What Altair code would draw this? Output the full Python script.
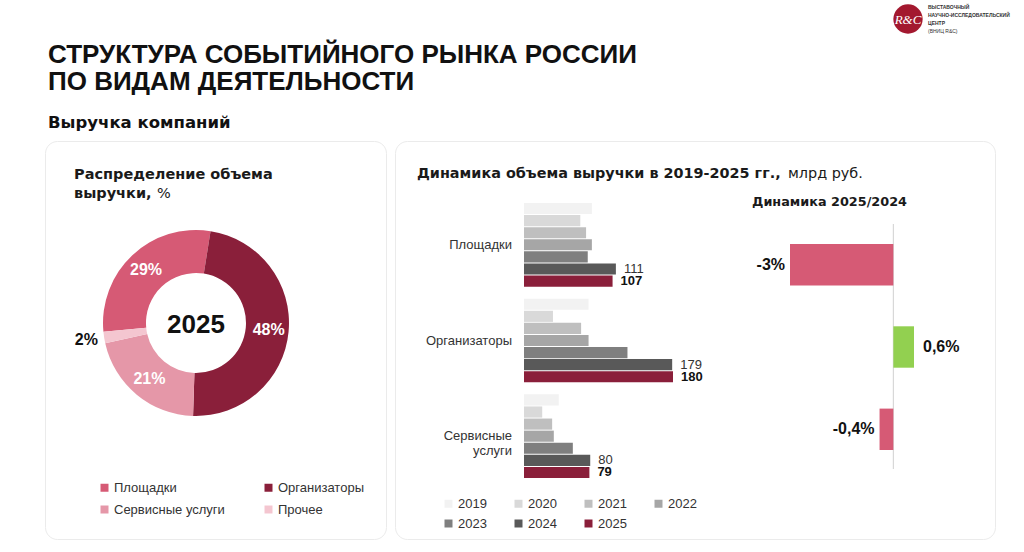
import math
import altair as alt
import pandas as pd

FONT = "Liberation Sans"
WIDE = "DejaVu Sans"
DARK = "#1a1a1a"
GREY_TXT = "#333333"

# ---------------- texts ----------------
title_line1 = "СТРУКТУРА СОБЫТИЙНОГО РЫНКА РОССИИ"
title_line2 = "ПО ВИДАМ ДЕЯТЕЛЬНОСТИ"
subtitle = "Выручка компаний"
donut_title1 = "Распределение объема"
donut_title2_bold = "выручки,"
donut_title2_reg = "%"
donut_center = "2025"
bars_title_bold = "Динамика объема выручки в 2019-2025 гг.,"
bars_title_reg = "млрд руб."
dyn_title = "Динамика 2025/2024"
logo_mark = "R&C"
logo_lines = ["ВЫСТАВОЧНЫЙ", "НАУЧНО-ИССЛЕДОВАТЕЛЬСКИЙ", "ЦЕНТР", "(ВНИЦ R&C)"]

# ---------------- donut data ----------------
donut_cats = ["Площадки", "Организаторы", "Сервисные услуги", "Прочее"]
donut_shares = [29, 48, 21, 2]
donut_labels = ["29%", "48%", "21%", "2%"]
donut_order = [4, 1, 2, 3]
donut_colors = ["#D65A75", "#8A1F3A", "#E597A8", "#F4C6D0"]

# ---------------- bar data ----------------
bar_cats = ["Площадки", "Организаторы", "Сервисные услуги"]
bar_cat_text = ["Площадки", "Организаторы", "Сервисные\nуслуги"]
years = ["2019", "2020", "2021", "2022", "2023", "2024", "2025"]
vals_venues = [82, 68, 75, 82, 77, 111, 107]
vals_organizers = [78, 35, 69, 78, 125, 179, 180]
vals_services = [42, 22, 34, 36, 59, 80, 79]
year_colors = ["#F2F2F2", "#D9D9D9", "#BFBFBF", "#A6A6A6", "#7F7F7F", "#595959", "#8A1F3A"]

# ---------------- dynamics data ----------------
dyn_vals = [-3, 0.6, -0.4]
dyn_labels = ["-3%", "0,6%", "-0,4%"]
NEG = "#D65A75"
POS = "#92D050"


def txt(text, x, y, size, weight="normal", color=DARK, align="left", font=FONT, style="normal"):
    return alt.Chart(pd.DataFrame({"t": [text]})).mark_text(
        font=font, fontSize=size, fontWeight=weight, color=color, align=align,
        baseline="alphabetic", fontStyle=style
    ).encode(text="t:N", x=alt.value(x), y=alt.value(y))


# ---------------- header ----------------
logo_df = pd.DataFrame({"a": [0]})
logo_circle = alt.Chart(logo_df).mark_circle(size=860, color="#A3182F", opacity=1).encode(
    x=alt.value(863), y=alt.value(19))
header_layers = [
    txt(title_line1, 3, 63, 26, "bold", "#111111"),
    txt(title_line2, 3, 90, 26, "bold", "#111111"),
    txt(subtitle, 3, 128, 16.5, "bold", "#111111", font=WIDE),
    logo_circle,
    txt(logo_mark, 863, 24, 13, "normal", "white", "center", "Liberation Serif", "italic"),
]
for i, line in enumerate(logo_lines):
    header_layers.append(txt(line, 883, 9 + 8 * i, 5, "bold" if i < 3 else "normal", GREY_TXT))
header = alt.layer(*header_layers).properties(
    width=970, height=140, view=alt.ViewBackground(strokeWidth=0, stroke="transparent"))

# ---------------- panel A: donut ----------------
donut_df = pd.DataFrame({"cat": donut_cats, "share": donut_shares,
                         "label": donut_labels, "ord": donut_order})
CX, CY = 151, 182
start = 9 * math.pi / 180
theta = alt.Theta("share:Q", stack=True, scale=alt.Scale(range=[start, start + 2 * math.pi]))
order = alt.Order("ord:Q")

arc = alt.Chart(donut_df).mark_arc(innerRadius=50, outerRadius=93).encode(
    theta=theta, order=order,
    color=alt.Color("cat:N", scale=alt.Scale(domain=donut_cats, range=donut_colors),
                    legend=alt.Legend(orient="none", legendX=53, legendY=340, columns=2,
                                      direction="horizontal",
                                      title=None, symbolType="square", symbolSize=64,
                                      symbolStrokeWidth=0, labelFont=FONT, labelFontSize=13,
                                      labelColor=GREY_TXT, columnPadding=37, rowPadding=8,
                                      labelOffset=3, labelLimit=300)),
    x=alt.value(CX), y=alt.value(CY))

lbl_in = alt.Chart(donut_df).mark_text(radius=73, font=FONT, fontSize=16, fontWeight="bold",
                                       color="white").encode(
    theta=theta, order=order,
    text=alt.condition("datum.cat != 'Прочее'", alt.Text("label:N"), alt.value("")),
    x=alt.value(CX), y=alt.value(CY))
lbl_out = alt.Chart(donut_df).mark_text(radius=111, font=FONT, fontSize=16, fontWeight="bold",
                                        color="#111111").encode(
    theta=theta, order=order,
    text=alt.condition("datum.cat == 'Прочее'", alt.Text("label:N"), alt.value("")),
    x=alt.value(CX), y=alt.value(CY))

panelA = alt.layer(
    arc, lbl_in, lbl_out,
    txt(donut_center, CX, 192, 26, "bold", "#111111", "center"),
    txt(donut_title1, 29, 38, 14.5, "bold", font=WIDE),
    txt(donut_title2_bold, 29, 57, 14.5, "bold", font=WIDE),
    txt(donut_title2_reg, 112, 57, 14.5, "normal", font=WIDE),
).properties(width=341, height=398,
             view=alt.ViewBackground(stroke="#ebebeb", strokeWidth=1, cornerRadius=12))

# ---------------- panel B: bars ----------------
rows = []
for cat, vals in zip(bar_cats, [vals_venues, vals_organizers, vals_services]):
    for y, v in zip(years, vals):
        rows.append({"cat": cat, "year": y, "v": v})
bars_df = pd.DataFrame(rows)

xsc = alt.Scale(domain=[0, 180], range=[129, 278], nice=False, zero=True)
ysc = alt.Scale(domain=bar_cats, range=[62, 337], paddingInner=0.126, paddingOuter=0)
yoff = alt.YOffset("year:N", scale=alt.Scale(domain=years, paddingInner=0.08, paddingOuter=0))

bars = alt.Chart(bars_df).mark_bar().encode(
    x=alt.X("v:Q", scale=xsc, axis=None),
    y=alt.Y("cat:N", scale=ysc, axis=None),
    yOffset=yoff,
    color=alt.Color("year:N", scale=alt.Scale(domain=years, range=year_colors),
                    legend=alt.Legend(orient="none", legendX=47, legendY=356, columns=4,
                                      direction="horizontal",
                                      title=None, symbolType="square", symbolSize=64,
                                      symbolStrokeWidth=0, labelFont=FONT, labelFontSize=13,
                                      labelColor=GREY_TXT, columnPadding=25, rowPadding=6,
                                      labelOffset=3)))
lab24 = alt.Chart(bars_df).transform_filter("datum.year == '2024'").mark_text(
    align="left", baseline="middle", dx=8, font=FONT, fontSize=13, color=GREY_TXT).encode(
    x=alt.X("v:Q", scale=xsc, axis=None), y=alt.Y("cat:N", scale=ysc, axis=None),
    yOffset=yoff, text="v:Q")
lab25 = alt.Chart(bars_df).transform_filter("datum.year == '2025'").mark_text(
    align="left", baseline="middle", dx=8, font=FONT, fontSize=13, fontWeight="bold",
    color="#111111").encode(
    x=alt.X("v:Q", scale=xsc, axis=None), y=alt.Y("cat:N", scale=ysc, axis=None),
    yOffset=yoff, text="v:Q")
cat_df = pd.DataFrame({"cat": bar_cats, "disp": bar_cat_text})
cat_lbl = alt.Chart(cat_df).mark_text(
    align="right", baseline="middle", lineBreak="\n", lineHeight=15, font=FONT,
    fontSize=13, color=GREY_TXT).encode(
    y=alt.Y("cat:N", scale=ysc, axis=None), x=alt.value(117), text="disp:N")
bar_layer = alt.layer(bars, lab24, lab25, cat_lbl)

# ---------------- panel B: dynamics ----------------
dyn_df = pd.DataFrame({"cat": bar_cats, "v": dyn_vals, "label": dyn_labels})
dxsc = alt.Scale(domain=[-3, 0.6], range=[395, 519], nice=False, zero=False)
dysc = alt.Scale(domain=bar_cats, range=[103, 309], paddingInner=0.497, paddingOuter=0)

zero_rule = alt.Chart(pd.DataFrame({"z": [0]})).mark_rule(color="#d0d0d0", strokeWidth=1).encode(
    x=alt.X("z:Q", scale=dxsc, axis=None), y=alt.value(83), y2=alt.value(328))
dbars = alt.Chart(dyn_df).mark_bar().encode(
    x=alt.X("v:Q", scale=dxsc, axis=None), x2=alt.datum(0),
    y=alt.Y("cat:N", scale=dysc, axis=None),
    color=alt.condition("datum.v < 0", alt.value(NEG), alt.value(POS)))
neg_lbl = alt.Chart(dyn_df).transform_filter("datum.v < 0").mark_text(
    align="right", baseline="middle", dx=-5, font=FONT, fontSize=16, fontWeight="bold",
    color="#111111").encode(
    x=alt.X("v:Q", scale=dxsc, axis=None), y=alt.Y("cat:N", scale=dysc, axis=None),
    text="label:N")
pos_lbl = alt.Chart(dyn_df).transform_filter("datum.v >= 0").mark_text(
    align="left", baseline="middle", dx=9, font=FONT, fontSize=16, fontWeight="bold",
    color="#111111").encode(
    x=alt.X("v:Q", scale=dxsc, axis=None), y=alt.Y("cat:N", scale=dysc, axis=None),
    text="label:N")
dyn_layer = alt.layer(zero_rule, dbars, neg_lbl, pos_lbl)

panelB = alt.layer(
    bar_layer, dyn_layer,
    txt(bars_title_bold, 22, 37, 14.4, "bold", font=WIDE),
    txt(bars_title_reg, 393, 37, 14.4, "normal", font=WIDE),
    txt(dyn_title, 357, 65, 12.8, "bold", font=WIDE),
).resolve_scale(x="independent", y="independent").properties(
    width=600, height=398,
    view=alt.ViewBackground(stroke="#ebebeb", strokeWidth=1, cornerRadius=12))

chart = alt.vconcat(
    header,
    alt.hconcat(panelA, panelB, spacing=7).resolve_scale(color="independent"),
    spacing=0,
).resolve_scale(color="independent").properties(
    padding={"left": 44, "top": 0, "right": 0, "bottom": 0},
    background="white",
).configure(font=FONT).configure_view(strokeWidth=0, stroke=None)

chart.save("out.html", embed_options={"renderer": "svg", "actions": False})
